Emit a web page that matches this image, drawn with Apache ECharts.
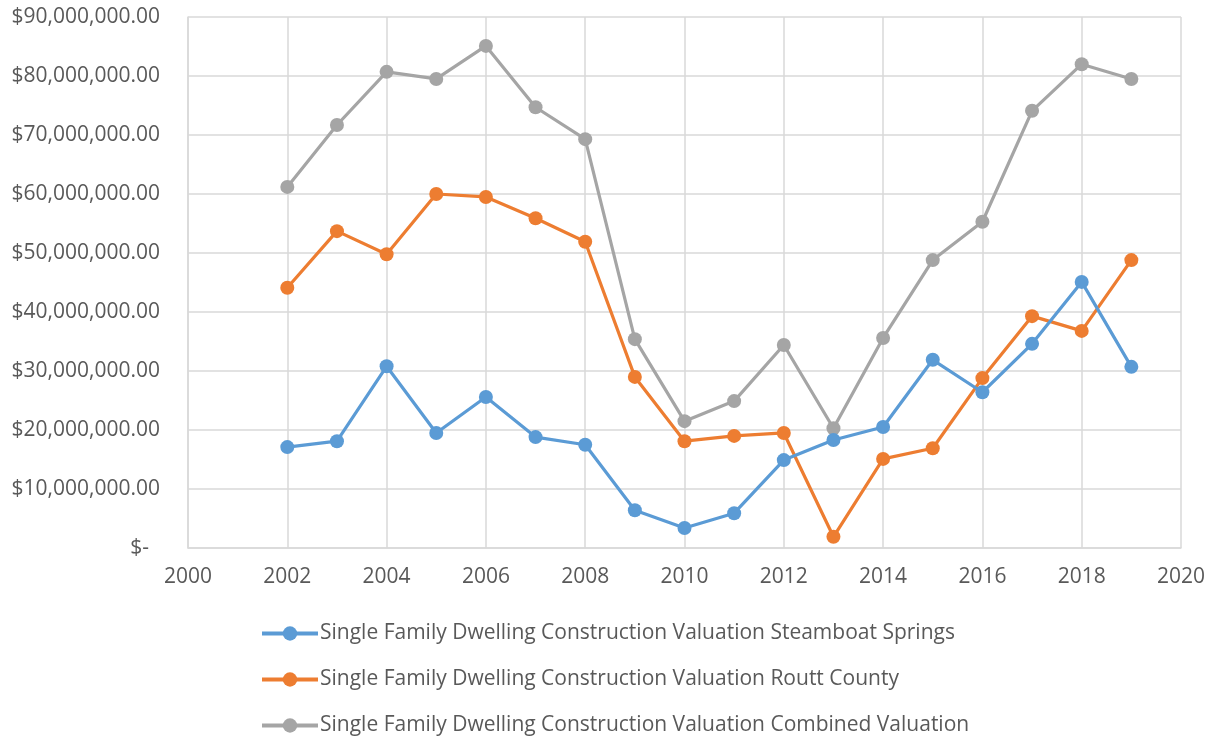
<!DOCTYPE html>
<html>
<head>
<meta charset="utf-8">
<script src="https://cdn.jsdelivr.net/npm/echarts@6/dist/echarts.min.js"></script>
<style>
    html, body { margin: 0; padding: 0; background: #fff; }
    #chart { width: 1216px; height: 740px; }
</style>
</head>
<body>
<div id="chart"></div>
<script>
// data
var years = [2002, 2003, 2004, 2005, 2006, 2007, 2008, 2009, 2010, 2011, 2012, 2013, 2014, 2015, 2016, 2017, 2018, 2019];
var steamboat = [17.1, 18.1, 30.8, 19.5, 25.6, 18.8, 17.5, 6.4, 3.4, 5.9, 14.9, 18.3, 20.5, 31.9, 26.4, 34.6, 45.1, 30.7];
var routt = [44.1, 53.7, 49.8, 60.0, 59.5, 55.9, 51.9, 29.0, 18.1, 19.0, 19.5, 1.9, 15.1, 16.9, 28.8, 39.3, 36.8, 48.8];
var combined = [61.2, 71.7, 80.7, 79.5, 85.1, 74.7, 69.3, 35.4, 21.5, 24.9, 34.4, 20.3, 35.6, 48.8, 55.3, 74.1, 82.0, 79.5];
var seriesNames = [
    "Single Family Dwelling Construction Valuation Steamboat Springs",
    "Single Family Dwelling Construction Valuation Routt County",
    "Single Family Dwelling Construction Valuation Combined Valuation"
];
var colors = ["#5B9BD5", "#ED7D31", "#A5A5A5"];

function toPairs(vals) {
    return vals.map(function (v, i) { return [years[i], v * 1000000]; });
}

function money(v) {
    if (v === 0) return "$-  ";
    var s = Math.round(v).toString().replace(/\B(?=(\d{3})+(?!\d))/g, ",");
    return "$" + s + ".00";
}

var font = "'Open Sans', sans-serif";
var chart = echarts.init(document.getElementById("chart"));
var allData = [steamboat, routt, combined];

chart.setOption({
    animation: false,
    color: colors,
    textStyle: { fontFamily: font },
    grid: { left: 188, right: 35, top: 17, bottom: 192 },
    xAxis: {
        type: "value",
        min: 2000,
        max: 2020,
        interval: 2,
        axisLine: { show: true, lineStyle: { color: "#d9d9d9", width: 1.5 } },
        axisTick: { show: false },
        splitLine: { show: true, lineStyle: { color: "#d9d9d9", width: 1.5 } },
        axisLabel: {
            color: "#595959", fontSize: 21, margin: 19, fontFamily: font,
            formatter: function (v) { return String(v); }
        }
    },
    yAxis: {
        type: "value",
        min: 0,
        max: 90000000,
        interval: 10000000,
        axisLine: { show: true, lineStyle: { color: "#d9d9d9", width: 1.5 } },
        axisTick: { show: false },
        splitLine: { show: true, lineStyle: { color: "#d9d9d9", width: 1.5 } },
        axisLabel: { color: "#595959", fontSize: 21, margin: 28, fontFamily: font, formatter: money }
    },
    legend: {
        orient: "vertical",
        left: 260,
        top: 623,
        padding: 0,
        itemWidth: 56,
        itemHeight: 18,
        itemGap: 25,
        lineStyle: { width: 4 },
        textStyle: { color: "#595959", fontSize: 21, fontFamily: font, padding: [0, 0, 0, -3] },
        data: seriesNames
    },
    series: seriesNames.map(function (name, i) {
        return {
            name: name,
            type: "line",
            data: toPairs(allData[i]),
            symbol: "circle",
            symbolSize: 14,
            lineStyle: { width: 3.2, color: colors[i] },
            itemStyle: { color: colors[i] },
            z: 2 + (2 - i)
        };
    })
});
</script>
</body>
</html>
